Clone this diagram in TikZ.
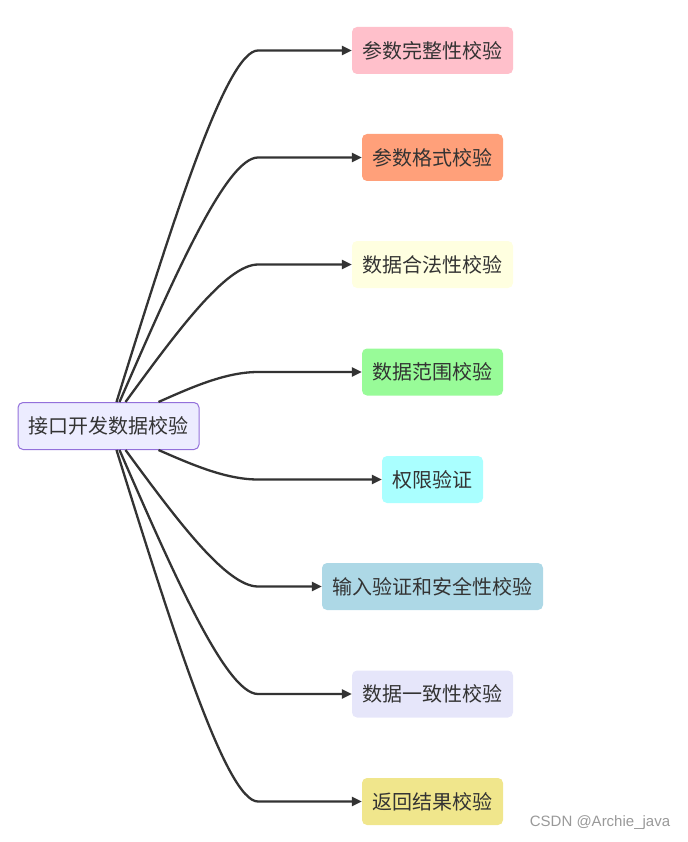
\documentclass[tikz,border=0pt]{standalone}
\usepackage{fontspec}
\setmainfont{Noto Sans CJK SC}
\newfontfamily\markfont{Liberation Sans}
\usepackage{tikz}
\usetikzlibrary{arrows.meta, calc}

\definecolor{txt}{HTML}{333333}
\definecolor{rootfill}{HTML}{ECECFF}
\definecolor{rootline}{HTML}{9370DB}
\definecolor{cpink}{HTML}{FFC0CB}
\definecolor{csalmon}{HTML}{FFA07A}
\definecolor{cyellow}{HTML}{FFFFE0}
\definecolor{cgreen}{HTML}{98FB98}
\definecolor{ccyan}{HTML}{AAFFFF}
\definecolor{cblue}{HTML}{ADD8E6}
\definecolor{clav}{HTML}{E6E6FA}
\definecolor{ckhaki}{HTML}{F0E68C}

\begin{document}
\begin{tikzpicture}[x=1pt, y=-1pt,
    box/.style={rounded corners=5pt, minimum height=47pt, inner xsep=10.5pt, text=txt,
                font=\fontsize{20}{24}\selectfont},
    edge/.style={draw=txt, line width=2.3pt, -{Triangle[length=10pt,width=9pt]}}]
        \useasboundingbox (0,0) rectangle (687,842);

        % root
        \node[box, fill=rootfill, draw=rootline, line width=1pt] (root) at (108.5,426) {接口开发数据校验};

        % checks
        \node[box, fill=cpink]   (full)   at (432.5,50.5)  {参数完整性校验};
        \node[box, fill=csalmon] (format) at (432.5,157.5) {参数格式校验};
        \node[box, fill=cyellow] (legal)  at (432.5,264.5) {数据合法性校验};
        \node[box, fill=cgreen]  (range)  at (432.5,372)   {数据范围校验};
        \node[box, fill=ccyan]   (auth)   at (432.5,479.5) {权限验证};
        \node[box, fill=cblue]   (safe)   at (432.5,586.5) {输入验证和安全性校验};
        \node[box, fill=clav]    (same)   at (432.5,694)   {数据一致性校验};
        \node[box, fill=ckhaki]  (result) at (432.5,801.5) {返回结果校验};

        % bend points
        \coordinate (mid) at (226,0);
        \coordinate (bend) at (258,0);
        \coordinate (s1) at ([xshift=8pt]root.north);
        \coordinate (s2) at ([xshift=11pt]root.north);
        \coordinate (s3) at ([xshift=17pt]root.north);
        \coordinate (s4) at ([xshift=50pt]root.north);
        \coordinate (t4) at ([xshift=50pt]root.south);
        \coordinate (t3) at ([xshift=17pt]root.south);
        \coordinate (t2) at ([xshift=11pt]root.south);
        \coordinate (t1) at ([xshift=8pt]root.south);

        % upper branches
        \draw[edge] (s1) .. controls ($(s1)!0.5!(mid |- full)$) and (mid |- full) .. (bend |- full) -- (full);
        \draw[edge] (s2) .. controls ($(s2)!0.5!(mid |- format)$) and (mid |- format) .. (bend |- format) -- (format);
        \draw[edge] (s3) .. controls ($(s3)!0.5!(mid |- legal)$) and (mid |- legal) .. (bend |- legal) -- (legal);
        \draw[edge] (s4) .. controls ($(s4)!0.5!(mid |- range)$) and (mid |- range) .. (bend |- range) -- (range);

        % lower branches
        \draw[edge] (t4) .. controls ($(t4)!0.5!(mid |- auth)$) and (mid |- auth) .. (bend |- auth) -- (auth);
        \draw[edge] (t3) .. controls ($(t3)!0.5!(mid |- safe)$) and (mid |- safe) .. (bend |- safe) -- (safe);
        \draw[edge] (t2) .. controls ($(t2)!0.5!(mid |- same)$) and (mid |- same) .. (bend |- same) -- (same);
        \draw[edge] (t1) .. controls ($(t1)!0.5!(mid |- result)$) and (mid |- result) .. (bend |- result) -- (result);

        % watermark
        \node[text=black!40, font=\markfont\fontsize{15}{17}\selectfont] (mark) at (600,823) {CSDN @Archie\_java};
\end{tikzpicture}
\end{document}
